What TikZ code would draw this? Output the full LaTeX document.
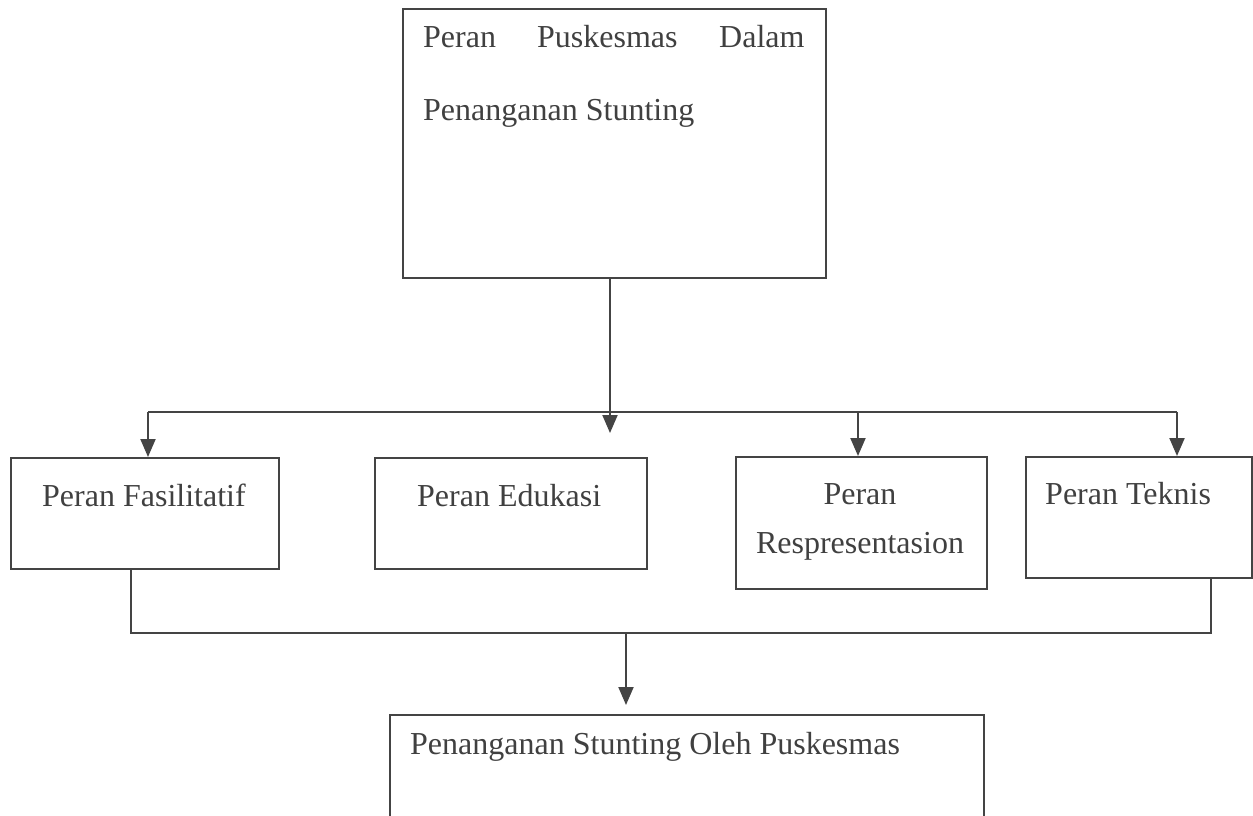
\documentclass[tikz,border=0pt]{standalone}
\usepackage{fontspec}
\setmainfont{Liberation Serif}
\usetikzlibrary{arrows.meta}
\definecolor{ink}{HTML}{444444}
\definecolor{txt}{HTML}{404040}
\tikzset{
  boxnode/.style={draw=ink, line width=2pt, rectangle, inner sep=0pt, anchor=north west},
  lbl/.style={text=txt, inner sep=0pt, anchor=base west, font=\fontsize{32}{38}\selectfont},
  lblc/.style={lbl, anchor=base},
  conn/.style={draw=ink, line width=2pt},
  arr/.style={conn, -{Triangle[length=18pt,width=15pt]}}
}
\begin{document}
\begin{tikzpicture}[x=1pt,y=-1pt]
\useasboundingbox (0,0) rectangle (1253,815);
\clip (0,0) rectangle (1253,815);
% boxes
\node[boxnode, minimum width=423pt, minimum height=269pt] (top) at (402,8) {};
\node[boxnode, minimum width=268pt, minimum height=111pt] (fas) at (10,457) {};
\node[boxnode, minimum width=272pt, minimum height=111pt] (edu) at (374,457) {};
\node[boxnode, minimum width=251pt, minimum height=132pt] (rep) at (735,456) {};
\node[boxnode, minimum width=226pt, minimum height=121pt] (tek) at (1025,456) {};
\node[boxnode, minimum width=594pt, minimum height=160pt] (bot) at (389,714) {};
% texts
\node[lbl] (t1a) at (423,47) {Peran};
\node[lbl] (t1b) at (537,47) {Puskesmas};
\node[lbl] (t1c) at (719,47) {Dalam};
\node[lbl] (t2) at (423,120) {Penanganan Stunting};
\node[lbl] (tfas) at (42,506) {Peran Fasilitatif};
\node[lbl] (tedu) at (417,506) {Peran Edukasi};
\node[lblc] (trep1) at (860,504) {Peran};
\node[lblc] (trep2) at (860,553) {Respresentasion};
\node[lbl] (ttek) at (1045,504) {Peran Teknis};
\node[lbl] (tbot) at (410,754) {Penanganan Stunting Oleh Puskesmas};
% coordinates
\coordinate (ctr) at (610,433);
\coordinate (busL) at (148,412);
\coordinate (busR) at (1177,412);
\coordinate (busRep) at (858,412);
\coordinate (lowL) at (131,633);
\coordinate (lowR) at (1211,633);
\coordinate (lowM) at (626,633);
\coordinate (botTip) at (626,705);
% connectors
\draw[arr] (top.south -| ctr) -- (ctr);
\draw[conn] (busL) -- (busR);
\draw[arr] (busL) -- (busL |- fas.north);
\draw[arr] (busRep) -- (busRep |- rep.north);
\draw[arr] (busR) -- (busR |- tek.north);
\draw[conn] (fas.south -| lowL) -- (lowL) -- (lowR) -- (tek.south -| lowR);
\draw[arr] (lowM) -- (botTip);
\end{tikzpicture}
\end{document}
